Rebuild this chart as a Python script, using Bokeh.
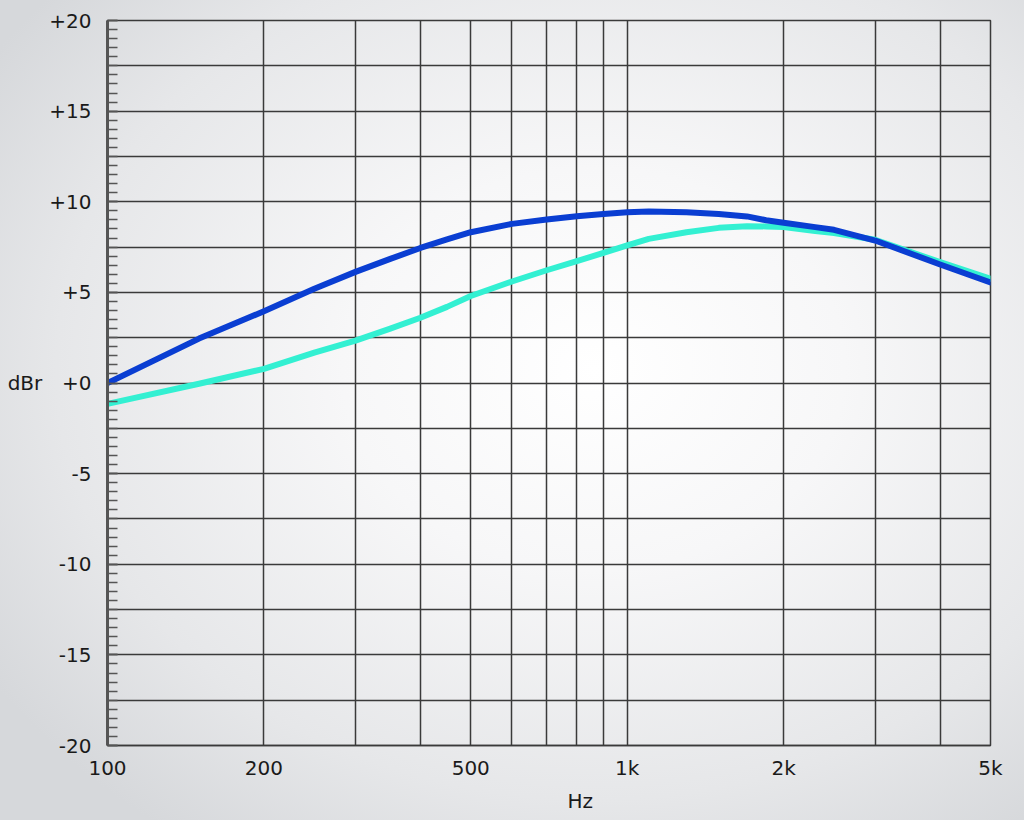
from bokeh.plotting import figure
from bokeh.models import FixedTicker, SingleIntervalTicker, Range1d, Title
from bokeh.embed import file_html
from bokeh.resources import INLINE

# ---- data ----
freq = [100, 150, 200, 250, 300, 350, 400, 450, 500, 600, 700, 800, 900, 1000,
        1100, 1300, 1500, 1700, 1850, 2000, 2300, 2500, 3000, 4000, 5000]
blue_db = [0.0, 2.45, 3.96, 5.2, 6.13, 6.85, 7.45, 7.92, 8.32, 8.78, 9.02, 9.2, 9.33, 9.42,
           9.46, 9.42, 9.33, 9.19, 8.98, 8.84, 8.6, 8.45, 7.86, 6.54, 5.55]
cyan_db = [-1.15, -0.04, 0.78, 1.67, 2.34, 3.0, 3.6, 4.2, 4.8, 5.6, 6.22, 6.72, 7.18, 7.59,
           7.95, 8.32, 8.56, 8.65, 8.64, 8.6, 8.38, 8.28, 7.9, 6.67, 5.75]

x_label_ticks = [100, 200, 500, 1000, 2000, 5000]
x_label_text = ["100", "200", "500", "1k", "2k", "5k"]
x_grid_ticks = [100, 200, 300, 400, 500, 600, 700, 800, 900, 1000, 2000, 3000, 4000, 5000]
y_ticks = [-20, -15, -10, -5, 0, 5, 10, 15, 20]
y_tick_text = ["-20", "-15", "-10", "-5", "+0", "+5", "+10", "+15", "+20"]

FONT = "DejaVu Sans"
TXT = "#1a1a1a"
GRID = "#3a3a3a"

p = figure(x_axis_type="log", output_backend="svg", toolbar_location=None,
           frame_width=883, frame_height=725,
           min_border_left=107, min_border_right=34, min_border_top=20, min_border_bottom=75,
           x_range=Range1d(100, 5000), y_range=Range1d(-20, 20))

p.styles = {"background": "radial-gradient(ellipse 70% 70% at 58% 45%, #ffffff 0%, #f7f7f8 35%, #e6e7e9 75%, #d6d8db 100%)"}
p.background_fill_color = None
p.border_fill_color = None
p.outline_line_color = GRID
p.outline_line_width = 1.5

# x axis
p.xaxis.ticker = FixedTicker(ticks=x_label_ticks)
p.xaxis.major_label_overrides = {t: s for t, s in zip(x_label_ticks, x_label_text)}
p.xaxis.major_tick_out = 0
p.xaxis.major_tick_in = 0
p.xaxis.minor_tick_out = 0
p.xaxis.minor_tick_in = 0
p.xaxis.axis_line_color = GRID
p.xaxis.axis_line_width = 1.5
p.xaxis.major_label_standoff = 10
p.xaxis.major_label_text_font = FONT
p.xaxis.major_label_text_font_size = "20px"
p.xaxis.major_label_text_color = TXT

# y axis
p.yaxis.ticker = SingleIntervalTicker(interval=5, num_minor_ticks=10)
p.yaxis.major_label_overrides = {t: s for t, s in zip(y_ticks, y_tick_text)}
p.yaxis.major_tick_out = 0
p.yaxis.major_tick_in = 10
p.yaxis.minor_tick_out = 0
p.yaxis.minor_tick_in = 10
p.yaxis.major_tick_line_color = "#555555"
p.yaxis.minor_tick_line_color = "#555555"
p.yaxis.major_tick_line_width = 1.5
p.yaxis.minor_tick_line_width = 1.5
p.yaxis.axis_line_color = "#555555"
p.yaxis.axis_line_width = 3
p.yaxis.major_label_standoff = 16
p.yaxis.major_label_text_font = FONT
p.yaxis.major_label_text_font_size = "20px"
p.yaxis.major_label_text_color = TXT
p.yaxis.axis_label = "dBr"
p.yaxis.axis_label_orientation = "horizontal"
p.yaxis.axis_label_standoff = 4
p.yaxis.axis_label_text_font = FONT
p.yaxis.axis_label_text_font_size = "20px"
p.yaxis.axis_label_text_font_style = "normal"
p.yaxis.axis_label_text_color = TXT

# grids
p.xgrid.ticker = FixedTicker(ticks=x_grid_ticks)
p.xgrid.grid_line_color = GRID
p.xgrid.grid_line_width = 1.5
p.ygrid.ticker = SingleIntervalTicker(interval=2.5)
p.ygrid.grid_line_color = GRID
p.ygrid.grid_line_width = 1.5

# curves
p.line(freq, cyan_db, line_color="#33f0d2", line_width=6, line_join="round", line_cap="round")
p.line(freq, blue_db, line_color="#0a3ed2", line_width=6, line_join="round", line_cap="round")

# x axis title
p.add_layout(Title(text="Hz", align="left", offset=460, standoff=8,
                   text_font=FONT, text_font_size="20px", text_font_style="normal",
                   text_color=TXT), "below")

open("out.html", "w").write(file_html(p, INLINE))
